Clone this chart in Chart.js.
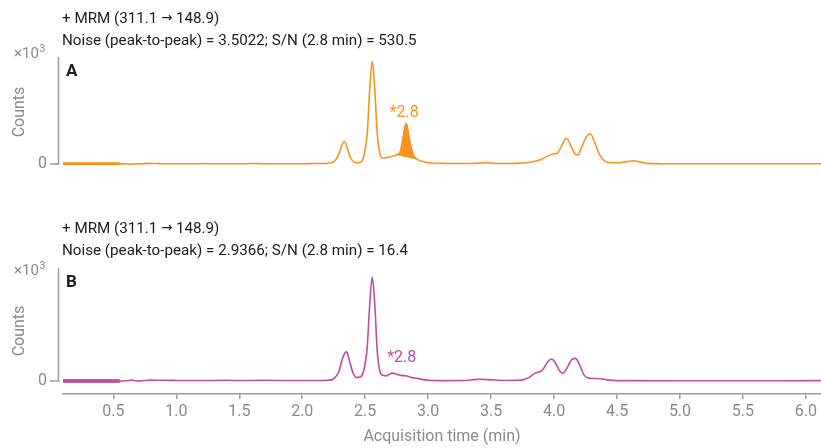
<!DOCTYPE html>
<html>
<head>
<meta charset="utf-8">
<script src="https://cdn.jsdelivr.net/npm/chart.js@4/dist/chart.umd.min.js"></script>
<style>
  html, body { margin: 0; padding: 0; background: #ffffff; }
  #wrap { position: relative; width: 821px; height: 448px; overflow: hidden; }
  #wrap canvas { position: absolute; left: 0; }
</style>
</head>
<body>
<div id="wrap">
  <canvas id="chartA" width="821" height="200" style="top:0;width:821px;height:200px"></canvas>
  <canvas id="chartB" width="821" height="248" style="top:200px;width:821px;height:248px"></canvas>
</div>
<script>
// Chromatogram A: acquisition time (min) and counts (x10^3, relative)
const timeA = [0.10, 0.20, 0.30, 0.40, 0.50, 0.55, 0.60, 0.64, 0.68, 0.72, 0.78, 0.84, 0.92, 1.00, 1.10, 1.20,
  1.30, 1.40, 1.50, 1.60, 1.70, 1.80, 1.90, 2.00, 2.10, 2.18, 2.23, 2.26, 2.29, 2.31, 2.333, 2.355, 2.375,
  2.40, 2.43, 2.46, 2.48, 2.50, 2.516, 2.536, 2.556, 2.576, 2.596, 2.616, 2.64, 2.67, 2.70, 2.73, 2.75,
  2.78, 2.80, 2.825, 2.85, 2.88, 2.91, 2.95, 3.00, 3.10, 3.20, 3.30, 3.40, 3.46, 3.52, 3.60, 3.70, 3.78,
  3.85, 3.90, 3.95, 4.00, 4.03, 4.06, 4.10, 4.14, 4.17, 4.19, 4.22, 4.26, 4.29, 4.32, 4.36, 4.40, 4.45,
  4.52, 4.58, 4.63, 4.68, 4.74, 4.85, 5.00, 5.50, 6.00, 6.12];
const countsA = [0, 0, 0, 0, 0, 0, 0.002, -0.002, 0.003, 0.001, 0.006, 0.004, 0.002, 0.003, 0.002, 0.004,
  0.002, 0.003, 0.002, 0.004, 0.003, 0.002, 0.003, 0.003, 0.004, 0.005, 0.012, 0.03, 0.09, 0.16, 0.21, 0.16, 0.08,
  0.03, 0.012, 0.015, 0.04, 0.14, 0.28, 0.70, 0.96, 0.70, 0.28, 0.10, 0.055, 0.06, 0.068, 0.078, 0.085,
  0.12, 0.24, 0.38, 0.24, 0.09, 0.045, 0.025, 0.012, 0.006, 0.004, 0.004, 0.008, 0.013, 0.006, 0.004, 0.006, 0.012,
  0.025, 0.045, 0.075, 0.095, 0.105, 0.17, 0.24, 0.15, 0.09, 0.085, 0.16, 0.26, 0.28, 0.21, 0.09, 0.03, 0.012,
  0.012, 0.022, 0.03, 0.02, 0.006, 0.003, 0.002, 0.002, 0.002, 0.002];

// Chromatogram B
const timeB = [0.10, 0.20, 0.30, 0.40, 0.50, 0.55, 0.60, 0.65, 0.68, 0.72, 0.80, 0.88, 1.00, 1.20, 1.40, 1.50,
  1.70, 1.90, 2.10, 2.20, 2.25, 2.29, 2.32, 2.35, 2.375, 2.40, 2.43, 2.46, 2.49, 2.516, 2.536, 2.556, 2.576,
  2.596, 2.616, 2.64, 2.67, 2.70, 2.72, 2.75, 2.79, 2.83, 2.87, 2.91, 2.96, 3.03, 3.15, 3.30, 3.36, 3.42,
  3.50, 3.60, 3.70, 3.75, 3.80, 3.85, 3.88, 3.91, 3.95, 3.98, 4.01, 4.05, 4.07, 4.10, 4.14, 4.17, 4.20, 4.24,
  4.28, 4.33, 4.37, 4.42, 4.50, 5.00, 6.12];
const countsB = [0, 0, 0, 0, 0, 0, 0.002, 0.008, 0.0, 0.002, 0.008, 0.006, 0.005, 0.004, 0.006, 0.004,
  0.006, 0.004, 0.004, 0.006, 0.02, 0.08, 0.20, 0.26, 0.18, 0.08, 0.03, 0.035, 0.10, 0.30, 0.68, 0.92, 0.68,
  0.26, 0.09, 0.05, 0.045, 0.065, 0.07, 0.06, 0.05, 0.045, 0.03, 0.025, 0.012, 0.005, 0.003, 0.004, 0.012, 0.015,
  0.01, 0.005, 0.006, 0.01, 0.03, 0.07, 0.08, 0.10, 0.17, 0.195, 0.16, 0.08, 0.07, 0.11, 0.19, 0.20, 0.15, 0.05,
  0.025, 0.022, 0.02, 0.01, 0.003, 0.002, 0.003];

// Axis ticks (min)
const xTickValues = [0.5, 1.0, 1.5, 2.0, 2.5, 3.0, 3.5, 4.0, 4.5, 5.0, 5.5, 6.0];

// Noise window (start of run) and integrated peak of A
const noiseWindow = [0.10, 0.55];
const peakWindowA = [2.75, 2.91];
const peakBaselineA = [0.085, 0.045];

// Header texts
const headerA = ['+ MRM (311.1 \u2192 148.9)', 'Noise (peak-to-peak) = 3.5022; S/N (2.8 min) = 530.5'];
const headerB = ['+ MRM (311.1 \u2192 148.9)', 'Noise (peak-to-peak) = 2.9366; S/N (2.8 min) = 16.4'];
const rtLabel = '*2.8';
const rtLabelPosA = [2.81, 0.48];
const rtLabelPosB = [2.79, 0.20];

const ORANGE = '#f7941d';
const ORANGE_DARK = '#f08a12';
const MAGENTA = '#c44ca6';
const MAGENTA_DARK = '#b83a98';
const AXIS = '#9c9c9c';
const GREY_TEXT = '#8a8a8a';
const DARK_TEXT = '#1c1c1c';
const FONT = 'Roboto, "Liberation Sans", sans-serif';
const ARROW_FONT = '"DejaVu Sans", sans-serif';

function toPoints(t, c) { return t.map((x, i) => ({ x: x, y: c[i] })); }
function within(points, lo, hi) { return points.filter(p => p.x >= lo - 1e-9 && p.x <= hi + 1e-9); }

// Draws a header line, giving the arrow glyph its own font
function drawHeader(ctx, text, x, y, size) {
  const parts = text.split('\u2192');
  let cx = x;
  parts.forEach((part, i) => {
    ctx.font = size + 'px ' + FONT;
    ctx.fillText(part, cx, y);
    cx += ctx.measureText(part).width;
    if (i < parts.length - 1) {
      ctx.font = (size - 2) + 'px ' + ARROW_FONT;
      ctx.fillText('\u2192', cx, y);
      cx += ctx.measureText('\u2192').width;
    }
  });
}

// Panel decorations: detached y axis, headers, panel letter, retention-time label
const panelDecor = {
  id: 'panelDecor',
  afterDatasetsDraw(chart, args, o) {
    const ctx = chart.ctx;
    const y = chart.scales.y, x = chart.scales.x;
    const y0 = y.getPixelForValue(0);
    ctx.save();
    // y axis line and zero tick
    ctx.strokeStyle = AXIS;
    ctx.lineWidth = 1.5;
    ctx.beginPath();
    ctx.moveTo(58.5, o.axisTop);
    ctx.lineTo(58.5, y0 + 1);
    ctx.moveTo(50, y0);
    ctx.lineTo(58.5, y0);
    ctx.stroke();
    // zero label
    ctx.fillStyle = GREY_TEXT;
    ctx.font = '16px ' + FONT;
    ctx.textAlign = 'right';
    ctx.textBaseline = 'middle';
    ctx.fillText('0', 47, y0);
    // x10^3 multiplier
    ctx.textAlign = 'left';
    ctx.textBaseline = 'alphabetic';
    ctx.font = '15px ' + FONT;
    const base = o.multBaseline;
    ctx.fillText('\u00d710', 14, base);
    const w = ctx.measureText('\u00d710').width;
    ctx.font = '11px ' + FONT;
    ctx.fillText('3', 14 + w + 0.5, base - 6);
    // Counts
    ctx.save();
    ctx.translate(24, o.countsY);
    ctx.rotate(-Math.PI / 2);
    ctx.font = '16px ' + FONT;
    ctx.textAlign = 'center';
    ctx.textBaseline = 'alphabetic';
    ctx.fillText('Counts', 0, 0);
    ctx.restore();
    // headers
    ctx.fillStyle = DARK_TEXT;
    ctx.textAlign = 'left';
    ctx.textBaseline = 'middle';
    drawHeader(ctx, o.header[0], 62, o.headerY[0], 15.2);
    drawHeader(ctx, o.header[1], 62, o.headerY[1], 15.2);
    // panel letter
    ctx.font = 'bold 17px ' + FONT;
    ctx.fillText(o.letter, 66, o.letterY);
    // retention-time label
    ctx.fillStyle = o.color;
    ctx.font = '16px ' + FONT;
    ctx.textAlign = 'center';
    ctx.fillText(o.rt, x.getPixelForValue(o.rtPos[0]), y.getPixelForValue(o.rtPos[1]));
    ctx.restore();
  }
};

const lineBase = {
  pointRadius: 0,
  pointHoverRadius: 0,
  cubicInterpolationMode: 'monotone',
  fill: false
};

// ---- Panel A ----
const ptsA = toPoints(timeA, countsA);
new Chart(document.getElementById('chartA'), {
  type: 'line',
  data: {
    datasets: [
      Object.assign({}, lineBase, { data: ptsA, borderColor: ORANGE, borderWidth: 1.6 }),
      Object.assign({}, lineBase, { data: within(ptsA, noiseWindow[0], noiseWindow[1]), borderColor: ORANGE_DARK, borderWidth: 3.5 }),
      Object.assign({}, lineBase, {
        data: [{ x: peakWindowA[0], y: peakBaselineA[0] }, { x: peakWindowA[1], y: peakBaselineA[1] }],
        borderColor: ORANGE, borderWidth: 0.5, cubicInterpolationMode: 'default', tension: 0
      }),
      Object.assign({}, lineBase, {
        data: within(ptsA, peakWindowA[0], peakWindowA[1]),
        borderColor: ORANGE, borderWidth: 1, backgroundColor: ORANGE, fill: { target: 2 }
      })
    ]
  },
  options: {
    responsive: false,
    animation: false,
    events: [],
    layout: { padding: { left: 63, right: 0, top: 57, bottom: 35 } },
    plugins: {
      legend: { display: false },
      tooltip: { enabled: false },
      panelDecor: {
        axisTop: 57, multBaseline: 58, countsY: 112, letterY: 72,
        header: headerA, headerY: [19, 41], letter: 'A', color: ORANGE, rt: rtLabel, rtPos: rtLabelPosA
      }
    },
    scales: {
      x: { type: 'linear', display: false, min: 0.1, max: 6.12 },
      y: { type: 'linear', display: false, min: -1 / 107, max: 1 }
    }
  },
  plugins: [panelDecor]
});

// ---- Panel B ----
const ptsB = toPoints(timeB, countsB);
new Chart(document.getElementById('chartB'), {
  type: 'line',
  data: {
    datasets: [
      Object.assign({}, lineBase, { data: ptsB, borderColor: MAGENTA, borderWidth: 1.6 }),
      Object.assign({}, lineBase, { data: within(ptsB, noiseWindow[0], noiseWindow[1]), borderColor: MAGENTA_DARK, borderWidth: 3.5 })
    ]
  },
  options: {
    responsive: false,
    animation: false,
    events: [],
    layout: { padding: { left: 63, right: 0, top: 68, bottom: 0 } },
    plugins: {
      legend: { display: false },
      tooltip: { enabled: false },
      panelDecor: {
        axisTop: 68, multBaseline: 75, countsY: 131, letterY: 83,
        header: headerB, headerY: [29, 51], letter: 'B', color: MAGENTA, rt: rtLabel, rtPos: rtLabelPosB
      }
    },
    scales: {
      x: {
        type: 'linear', min: 0.1, max: 6.12,
        afterFit(scale) { scale.height = 54; },
        afterBuildTicks(scale) { scale.ticks = xTickValues.map(v => ({ value: v })); },
        border: { display: true, color: AXIS, width: 1.5 },
        grid: { display: true, drawOnChartArea: false, drawTicks: true, tickLength: 5, color: AXIS, lineWidth: 1.5 },
        ticks: {
          padding: 3, color: GREY_TEXT, autoSkip: false, maxRotation: 0,
          font: { family: FONT, size: 16 },
          callback: v => Number(v).toFixed(1)
        },
        title: {
          display: true, text: 'Acquisition time (min)', color: GREY_TEXT,
          font: { family: FONT, size: 16, lineHeight: 1.2 }, padding: { top: 0, bottom: 1 }
        }
      },
      y: { type: 'linear', display: false, min: -13 / 113, max: 1 }
    }
  },
  plugins: [panelDecor]
});
</script>
</body>
</html>
